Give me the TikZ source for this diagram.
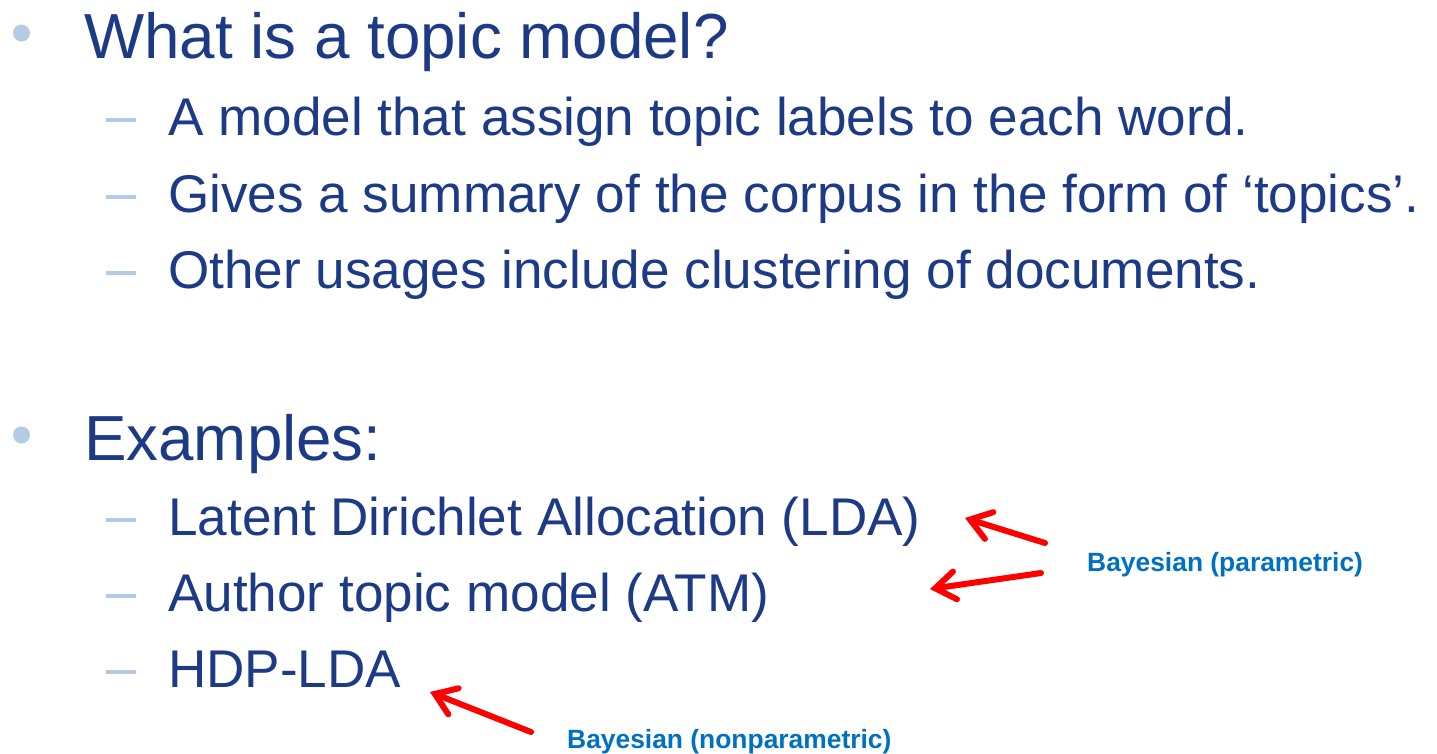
\documentclass[tikz,border=0pt]{standalone}
\usepackage{fontspec}
\setmainfont{Liberation Sans}
\usetikzlibrary{arrows.meta}
\definecolor{txtblue}{HTML}{1C3A85}
\definecolor{bulblue}{HTML}{B4CCE3}
\definecolor{labblue}{HTML}{0070C0}
\definecolor{arrred}{HTML}{FF0000}
\tikzset{
  main/.style={anchor=base west, inner sep=0pt, text=txtblue, font=\fontsize{63.7}{68}\selectfont},
  sub/.style={anchor=base west, inner sep=0pt, text=txtblue, font=\fontsize{53.1}{56}\selectfont},
  lab/.style={anchor=base west, inner sep=0pt, text=labblue, font=\bfseries\fontsize{26.4}{29}\selectfont},
  bulletdot/.style={circle, fill=bulblue, inner sep=0pt, minimum size=17pt},
  dashbar/.style={draw=bulblue, line width=3.5pt},
  redarrow/.style={draw=arrred, line width=6pt, line cap=round, line join=round,
    -{Straight Barb[length=20pt, width=28pt, line cap=round, line join=miter]}}
}
\begin{document}
\begin{tikzpicture}[x=1pt,y=-1pt]
\useasboundingbox (0,0) rectangle (1437,753);
% bullets
\node[bulletdot] (b1) at (21.5,33) {};
\node[main] (t1) at (84,58) {What is a topic model?};
\node[bulletdot] (b2) at (21.5,435) {};
\node[main] (t2) at (84,460) {Examples:};
% sub items
\foreach \y/\nm/\txt in {135/s1/{A model that assign topic labels to each word.},
                         212/s2/{Gives a summary of the corpus in the form of ‘topics’.},
                         288/s3/{Other usages include clustering of documents.},
                         535/s4/{Latent Dirichlet Allocation (LDA)},
                         611/s5/{Author topic model (ATM)},
                         687/s6/{HDP-LDA}} {
  \node[sub] (\nm) at (168,\y) {\txt};
  \draw[dashbar] (106,\y-15) -- (136,\y-15);
}
% labels
\node[lab] (lp) at (1087,571) {Bayesian (parametric)};
\node[lab] (ln) at (567,748) {Bayesian (nonparametric)};
% arrows
\coordinate (a1s) at (1045,543);
\coordinate (a1e) at (965,518);
\coordinate (a2s) at (1041,573);
\coordinate (a2e) at (930,589);
\coordinate (a3s) at (531,732);
\coordinate (a3e) at (430,692);
\draw[redarrow] (a1s) -- (a1e);
\draw[redarrow] (a2s) -- (a2e);
\draw[redarrow] (a3s) -- (a3e);
\end{tikzpicture}
\end{document}
